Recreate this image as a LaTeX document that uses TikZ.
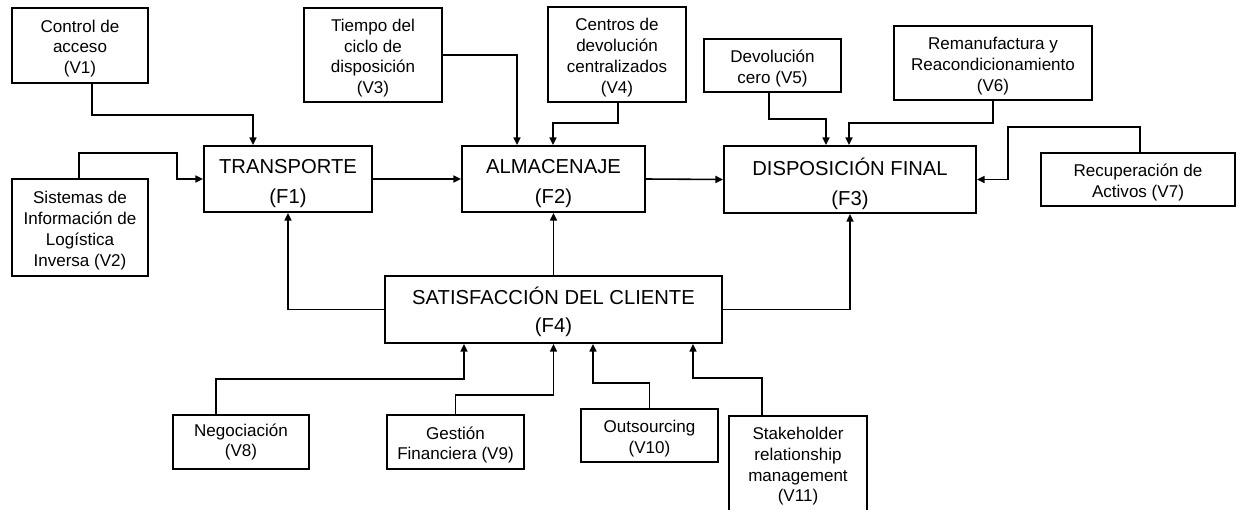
\documentclass[tikz,border=0pt]{standalone}
\usepackage{fontspec}
\setmainfont{Liberation Sans}
\usepackage{tikz}
\usetikzlibrary{arrows.meta}
\newlength{\px}
\setlength{\px}{0.02cm}
\newcommand{\alto}[1]{\rule{0pt}{#1}}
\tikzset{
  caja/.style={draw, line width=1.2pt, align=center, inner sep=1pt, font=\fontsize{9.7}{11.9}\selectfont},
  factor/.style={draw, line width=1.2pt, align=center, inner sep=1pt, font=\fontsize{11.5}{17.5}\selectfont},
  flecha/.style={-{Triangle[length=1.5mm, width=1.4mm]}, line width=0.9pt},
}

\begin{document}
\begin{tikzpicture}[x=0.02cm, y=-0.02cm]
    \useasboundingbox (0,0) rectangle (1237,510);
    \clip (0,0) rectangle (1237,510);

    % factores
    \node[factor, minimum width=168*\px, minimum height=66*\px] (f1) at (288,179) {\alto{13.2pt}TRANSPORTE\\(F1)};
    \node[factor, minimum width=183*\px, minimum height=66*\px] (f2) at (553.5,179) {\alto{13.2pt}ALMACENAJE\\(F2)};
    \node[factor, minimum width=252*\px, minimum height=67*\px] (f3) at (850,179.5) {\alto{15pt}DISPOSICIÓN FINAL\\(F3)};
    \node[factor, minimum width=337*\px, minimum height=67*\px, font=\fontsize{11.5}{16}\selectfont] (f4) at (553.5,309.5) {\alto{12.3pt}SATISFACCIÓN DEL CLIENTE\\(F4)};

    % variables
    \node[caja, minimum width=136*\px, minimum height=75*\px] (v1) at (80,45.5) {\alto{10.5pt}Control de\\acceso\\(V1)};
    \node[caja, minimum width=136*\px, minimum height=97*\px] (v2) at (80,227.5) {\alto{10.5pt}Sistemas de\\Información de\\Logística\\Inversa (V2)};
    \node[caja, minimum width=138*\px, minimum height=94*\px] (v3) at (373,55) {\alto{10.5pt}Tiempo del\\ciclo de\\disposición\\(V3)};
    \node[caja, minimum width=138*\px, minimum height=95*\px] (v4) at (617,54.5) {\alto{10.5pt}Centros de\\devolución\\centralizados\\(V4)};
    \node[caja, minimum width=137*\px, minimum height=53*\px] (v5) at (772.5,65.5) {\alto{10.5pt}Devolución\\cero (V5)};
    \node[caja, minimum width=198*\px, minimum height=74*\px] (v6) at (993,63) {\alto{10.5pt}Remanufactura y\\Reacondicionamiento\\(V6)};
    \node[caja, minimum width=194*\px, minimum height=53*\px] (v7) at (1138,179.5) {\alto{10.5pt}Recuperación de\\Activos (V7)};
    \node[caja, minimum width=136*\px, minimum height=54*\px] (v8) at (241,442) {Negociación\\(V8)};
    \node[caja, minimum width=137*\px, minimum height=54*\px] (v9) at (455.5,442) {\alto{10.5pt}Gestión\\Financiera (V9)};
    \node[caja, minimum width=137*\px, minimum height=53*\px] (v10) at (649.5,435.5) {\alto{10.5pt}Outsourcing\\(V10)};
    \node[caja, minimum width=138*\px, minimum height=96*\px] (v11) at (798,464) {\alto{9.5pt}Stakeholder\\relationship\\management\\(V11)};

    % hacia F1
    \draw[flecha] (v1.south -| 92,0) |- (253,115) -- (253,115 |- f1.north);
    \draw[flecha] (v2.north -| 79,0) |- (177,153) |- (f1.west);
    % hacia F2
    \draw[flecha] (v3.east) -| (517,0 |- f2.north);
    \draw[flecha] (v4.south -| 618,0) |- (553,123) -- (553,123 |- f2.north);
    \draw[flecha] (f1.east) -- (f2.west);
    % hacia F3
    \draw[flecha] (f2.east) -- (f3.west);
    \draw[flecha] (v5.south -| 769,0) |- (826,119) -- (826,119 |- f3.north);
    \draw[flecha] (v6.south) |- (849,123) -- (849,123 |- f3.north);
    \draw[flecha] (v7.north -| 1140,0) |- (1008,127) |- (f3.east);
    % desde F4
    \draw[flecha] (f4.west) -| (f1.south);
    \draw[flecha] (f4.north) -- (f2.south);
    \draw[flecha] (f4.east) -| (f3.south);
    % hacia F4
    \draw[flecha] (v8.north -| 216,0) |- (464,379) -- (464,379 |- f4.south);
    \draw[flecha] (v9.north) |- (f4.south |- 0,395) -- (f4.south);
    \draw[flecha] (v10.north) |- (593,383) -- (593,383 |- f4.south);
    \draw[flecha] (v11.north -| 762,0) |- (693,378) -- (693,378 |- f4.south);
  \end{tikzpicture}
\end{document}
